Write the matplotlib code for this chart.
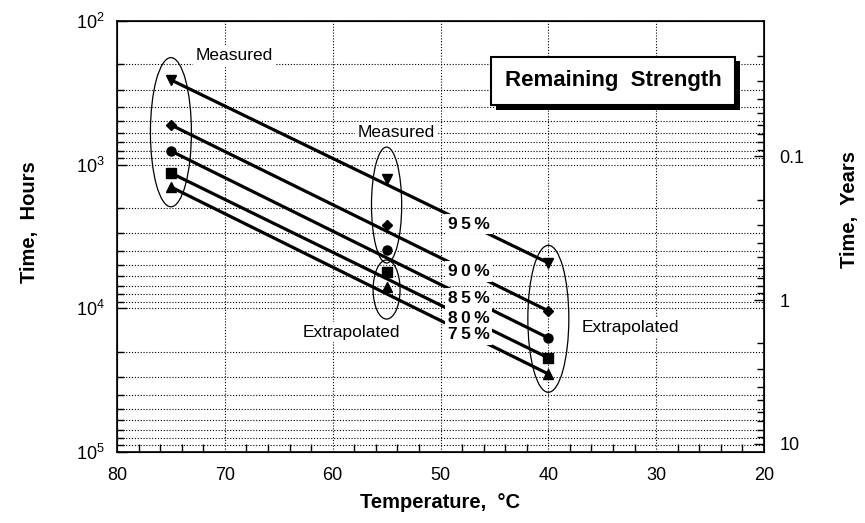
import numpy as np
import matplotlib
matplotlib.use("Agg")
import matplotlib.pyplot as plt
from matplotlib import ticker, transforms
from matplotlib.patches import Ellipse
import matplotlib.patheffects as pe

plt.rcParams['font.family'] = ['Liberation Sans', 'DejaVu Sans']
plt.rcParams['mathtext.fontset'] = 'custom'
plt.rcParams['mathtext.rm'] = 'Liberation Sans'
plt.rcParams['mathtext.it'] = 'Liberation Sans:italic'
plt.rcParams['mathtext.bf'] = 'Liberation Sans:bold'

# ---------------- data ----------------
temps = [75, 55, 40]                      # °C
labels = ["95%", "90%", "85%", "80%", "75%"]
markers = ["v", "D", "o", "s", "^"]
msizes = [7, 5.5, 6.5, 6.5, 7]
hours_95 = [257, 1258, 4831]
hours_90 = [529, 2628, 10420]
hours_85 = [803, 3924, 16070]
hours_80 = [1143, 5582, 22130]
hours_75 = [1430, 7100, 28630]
series = [hours_95, hours_90, hours_85, hours_80, hours_75]
label_temp = 47.4
hours_per_year = 8760.0

# ---------------- figure ----------------
fig = plt.figure(figsize=(8.65, 5.23), dpi=100)
W, H = 865, 523
ax = fig.add_axes([117 / W, 1 - 452 / H, (764 - 117) / W, (452 - 21) / H])

ax.set_xscale('linear')
ax.set_yscale('log')
ax.set_xlim(80, 20)
ax.set_ylim(1e5, 1e2)

ax.xaxis.set_major_locator(ticker.MultipleLocator(10))
ax.xaxis.set_minor_locator(ticker.MultipleLocator(2))
ax.yaxis.set_major_locator(ticker.LogLocator(base=10))
ax.yaxis.set_minor_locator(ticker.LogLocator(base=10, subs=np.arange(2, 10)))
ax.yaxis.set_minor_formatter(ticker.NullFormatter())

ax.tick_params(axis='both', which='both', direction='in', labelsize=13, width=1)
ax.tick_params(axis='both', which='major', length=7)
ax.tick_params(axis='both', which='minor', length=5)
ax.tick_params(axis='x', which='major', length=0, pad=11)
ax.tick_params(axis='x', which='minor', length=6)
ax.tick_params(axis='y', which='major', pad=9)

grid_ls = (0, (1, 1.6))
ax.grid(which='major', axis='x', linestyle=grid_ls, color='black', lw=0.8)
ax.grid(which='both', axis='y', linestyle=grid_ls, color='black', lw=0.8)
for sp in ax.spines.values():
    sp.set_linewidth(1.2)

# right axis: years
ax2 = ax.twinx()
ax2.set_yscale('log')
ax2.set_ylim(1e5 / hours_per_year, 1e2 / hours_per_year)
ax2.yaxis.set_major_locator(ticker.FixedLocator([0.1, 1, 10]))
ax2.yaxis.set_major_formatter(ticker.FuncFormatter(lambda v, _: f"{v:g}"))
ax2.yaxis.set_minor_locator(ticker.LogLocator(base=10, subs=np.arange(2, 10)))
ax2.yaxis.set_minor_formatter(ticker.NullFormatter())
ax2.tick_params(axis='y', which='both', direction='in', labelsize=13, width=1)
ax2.tick_params(axis='y', which='major', length=7, pad=11)
ax2.tick_params(axis='y', which='minor', length=5)

# ---------------- series ----------------
for lab, mk, ms, hrs in zip(labels, markers, msizes, series):
    # fitted straight line between the 75 °C and 40 °C values
    ax.plot([temps[0], temps[-1]], [hrs[0], hrs[-1]], color='black', lw=2.3,
            solid_capstyle='butt', zorder=3)
    ax.plot(temps, hrs, linestyle='none', marker=mk, ms=ms, color='black', zorder=4)
    ly = 10 ** np.interp(-label_temp, [-temps[0], -temps[-1]],
                         [np.log10(hrs[0]), np.log10(hrs[-1])])
    ax.text(label_temp, ly, "\u2009".join(lab),
            ha='center', va='center', fontsize=12.5, fontweight='bold', zorder=5,
            bbox=dict(boxstyle='square,pad=0.15', fc='white', ec='none'))

# ---------------- annotations ----------------
blend = transforms.blended_transform_factory(ax.transData, ax.transAxes)
ell_kw = dict(fill=False, ec='black', lw=0.9, transform=blend, zorder=6)
ax.add_patch(Ellipse((75, 0.742), 3.8, 0.346, **ell_kw))
ax.add_patch(Ellipse((55, 0.573), 2.8, 0.269, **ell_kw))
ax.add_patch(Ellipse((55, 0.377), 2.5, 0.137, **ell_kw))
ax.add_patch(Ellipse((40, 0.309), 3.8, 0.341, **ell_kw))

ann_kw = dict(ha='center', va='center', fontsize=12.5, transform=ax.transAxes, zorder=7)
ax.text(0.181, 0.919, "Measured", bbox=dict(boxstyle='square,pad=0.15', fc='white', ec='none'), **ann_kw)
ax.text(0.431, 0.742, "Measured", bbox=dict(boxstyle='square,pad=0.15', fc='white', ec='none'), **ann_kw)
ax.text(0.363, 0.278, "Extrapolated", bbox=dict(boxstyle='square,pad=0.15', fc='white', ec='none'), **ann_kw)
ax.text(0.793, 0.290, "Extrapolated", bbox=dict(boxstyle='square,pad=0.15', fc='white', ec='none'), **ann_kw)

title = ax.text(0.767, 0.861, "Remaining  Strength", ha='center', va='center',
                fontsize=16, fontweight='bold', transform=ax.transAxes, zorder=8,
                bbox=dict(boxstyle='square,pad=0.62', fc='white', ec='black', lw=1.5))
title.get_bbox_patch().set_path_effects([
    pe.SimplePatchShadow(offset=(3.5, -3.5), shadow_rgbFace='black', alpha=1.0),
    pe.Normal()])

# axis titles
fig.text(440 / W, 1 - 502 / H, "Temperature,  \u00b0C", ha='center', va='center',
         fontsize=14.5, fontweight='bold')
fig.text(30 / W, 1 - 222 / H, "Time,  Hours", ha='center', va='center',
         rotation=90, fontsize=14.5, fontweight='bold')
fig.text(850 / W, 1 - 210 / H, "Time,  Years", ha='center', va='center',
         rotation=90, fontsize=14.5, fontweight='bold')

fig.savefig("out.png", dpi=100)
